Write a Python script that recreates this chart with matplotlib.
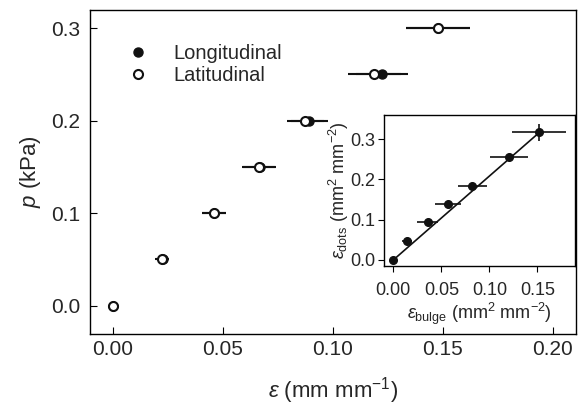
import matplotlib
matplotlib.use("Agg")
import matplotlib.pyplot as plt
from matplotlib.lines import Line2D

plt.rcParams['font.family'] = ['Liberation Sans', 'DejaVu Sans']
plt.rcParams['mathtext.fontset'] = 'custom'
plt.rcParams['mathtext.rm'] = 'Liberation Sans'
plt.rcParams['mathtext.it'] = 'Liberation Sans:italic'
plt.rcParams['axes.linewidth'] = 1.0
txt = '#262626'
plt.rcParams['text.color'] = txt
plt.rcParams['xtick.labelcolor'] = txt
plt.rcParams['ytick.labelcolor'] = txt
plt.rcParams['axes.labelcolor'] = txt

# main panel: pressure vs strain
pressure = [0.0, 0.05, 0.10, 0.15, 0.20, 0.25, 0.30]
long_strain = [0.0, 0.0228, 0.046, 0.067, 0.0895, 0.1225, 0.148]
long_err = [0.001, 0.003, 0.0055, 0.0075, 0.0085, 0.012, 0.0147]
lat_strain = [0.0, 0.0225, 0.046, 0.0665, 0.0877, 0.119, 0.148]
lat_err = [0.001, 0.003, 0.0055, 0.0075, 0.0085, 0.012, 0.0147]

# inset: dots strain vs bulge strain
bulge = [0.0, 0.0145, 0.036, 0.057, 0.082, 0.1205, 0.152]
bulge_err = [0.0, 0.005, 0.011, 0.0135, 0.015, 0.020, 0.028]
dots = [0.0, 0.046, 0.094, 0.138, 0.185, 0.256, 0.317]
dots_err = [0.0, 0.004, 0.004, 0.005, 0.005, 0.006, 0.022]
fit_slope = 2.085
fit_intercept = 0.0

fig = plt.figure(figsize=(5.84, 4.08), dpi=100)
ax = fig.add_axes([0.154, 0.181, 0.832, 0.795])

ax.errorbar(long_strain, pressure, xerr=long_err, fmt='o', color='#111111',
            ms=6.5, mfc='#111111', mec='#111111', elinewidth=1.5, capsize=0,
            zorder=3)
ax.errorbar(lat_strain, pressure, xerr=lat_err, fmt='o', color='#111111',
            ms=6.5, mfc='white', mec='#111111', mew=1.5, elinewidth=1.5,
            capsize=0, zorder=4)

ax.set_xlim(-0.0103, 0.2106)
ax.set_ylim(-0.031, 0.32)
ax.set_xticks([0.0, 0.05, 0.10, 0.15, 0.20])
ax.set_xticklabels(['0.00', '0.05', '0.10', '0.15', '0.20'])
ax.set_yticks([0.0, 0.1, 0.2, 0.3])
ax.set_yticklabels(['0.0', '0.1', '0.2', '0.3'])
ax.tick_params(direction='in', length=5, labelsize=15)
ax.tick_params(axis='y', pad=7)
ax.tick_params(axis='x', pad=4)
ax.set_xlabel(r'$\it{\varepsilon}$ (mm mm$^{-1}$)', fontsize=16, labelpad=12)
ax.set_ylabel(r'$\it{p}$ (kPa)', fontsize=16, labelpad=6)

handles = [
    Line2D([], [], ls='none', marker='o', ms=6.5, mfc='#111111',
           mec='#111111', label='Longitudinal'),
    Line2D([], [], ls='none', marker='o', ms=6.5, mfc='white',
           mec='#111111', mew=1.5, label='Latitudinal'),
]
ax.legend(handles=handles, loc='upper left', frameon=False, fontsize=14.5,
          bbox_to_anchor=(0.04, 0.95), handlelength=1.0, handletextpad=1.3,
          labelspacing=0.15)

# inset
ins = fig.add_axes([0.6575, 0.349, 0.327, 0.369])
ins.errorbar(bulge, dots, xerr=bulge_err, yerr=dots_err, fmt='o',
             color='#111111', ms=5.5, elinewidth=1.2, capsize=0, zorder=3)
xs = [bulge[0], bulge[-1]]
ins.plot(xs, [fit_slope * x + fit_intercept for x in xs], color='#111111',
         lw=1.2, zorder=2)
ins.set_xlim(-0.0097, 0.189)
ins.set_ylim(-0.014, 0.36)
ins.set_xticks([0.0, 0.05, 0.10, 0.15])
ins.set_xticklabels(['0.00', '0.05', '0.10', '0.15'])
ins.set_yticks([0.0, 0.1, 0.2, 0.3])
ins.set_yticklabels(['0.0', '0.1', '0.2', '0.3'])
ins.tick_params(direction='out', length=4, labelsize=13)
ins.tick_params(axis='x', pad=8)
ins.tick_params(axis='y', pad=2)
ins.set_xlabel(r'$\it{\varepsilon}_{\rm bulge}$ (mm$^2$ mm$^{-2}$)',
               fontsize=13, labelpad=1)
ins.set_ylabel(r'$\it{\varepsilon}_{\rm dots}$ (mm$^2$ mm$^{-2}$)',
               fontsize=13, labelpad=0)

fig.savefig('out.png', dpi=100)
